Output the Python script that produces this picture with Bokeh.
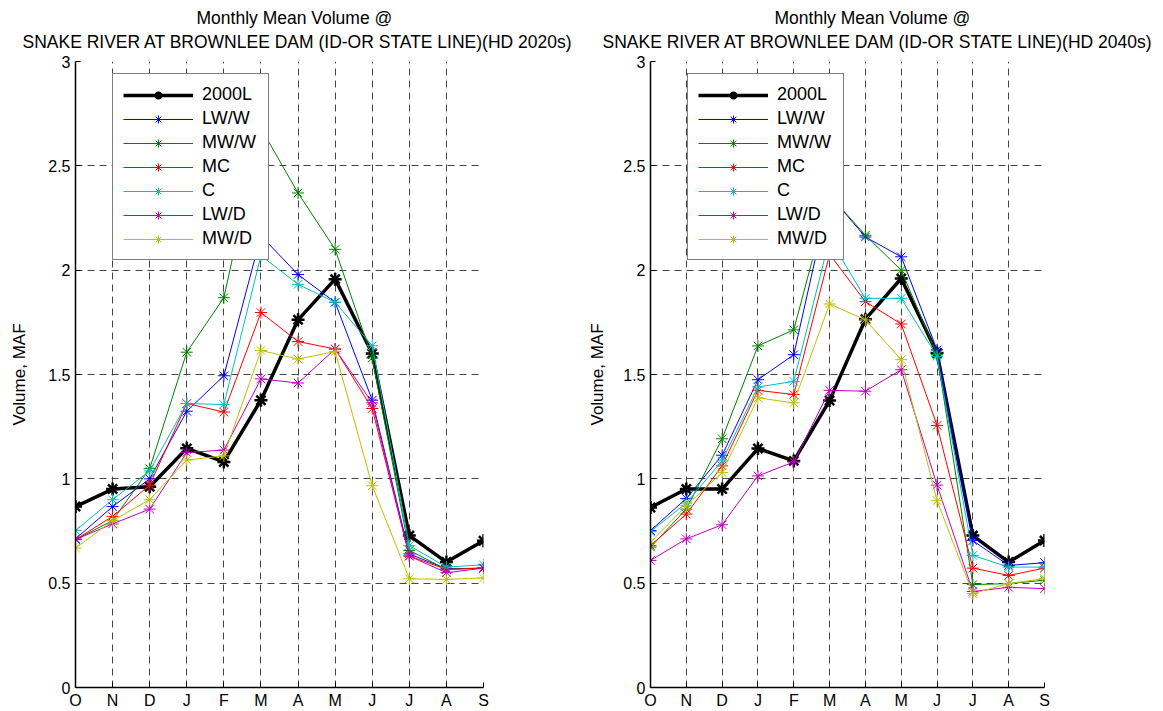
from bokeh.plotting import figure
from bokeh.layouts import row
from bokeh.models import FixedTicker, Title, Range1d
from bokeh.embed import file_html
from bokeh.resources import INLINE

months = ["O", "N", "D", "J", "F", "M", "A", "M", "J", "J", "A", "S"]
y_ticks = [0, 0.5, 1, 1.5, 2, 2.5, 3]
y_tick_labels = ["0", "0.5", "1", "1.5", "2", "2.5", "3"]
series_names = ["2000L", "LW/W", "MW/W", "MC", "C", "LW/D", "MW/D"]
title_line1 = "Monthly Mean Volume @"
title_left = "SNAKE RIVER AT BROWNLEE DAM (ID-OR STATE LINE)(HD 2020s)"
title_right = "SNAKE RIVER AT BROWNLEE DAM (ID-OR STATE LINE)(HD 2040s)"

# HD 2020s
l_2000L = [0.867, 0.951, 0.962, 1.146, 1.081, 1.377, 1.762, 1.957, 1.601, 0.728, 0.601, 0.703]
l_LWW   = [0.712, 0.867, 1.000, 1.324, 1.494, 2.165, 1.979, 1.846, 1.377, 0.640, 0.569, 0.572]
l_MWW   = [0.709, 0.800, 1.049, 1.607, 1.868, 2.680, 2.370, 2.100, 1.579, 0.657, 0.566, 0.572]
l_MC    = [0.709, 0.820, 0.970, 1.361, 1.320, 1.797, 1.658, 1.622, 1.337, 0.630, 0.566, 0.572]
l_C     = [0.752, 0.900, 1.038, 1.361, 1.356, 2.070, 1.932, 1.846, 1.638, 0.680, 0.577, 0.588]
l_LWD   = [0.709, 0.784, 0.855, 1.126, 1.138, 1.479, 1.459, 1.622, 1.364, 0.630, 0.550, 0.572]
l_MWD   = [0.668, 0.800, 0.900, 1.090, 1.110, 1.615, 1.574, 1.610, 0.967, 0.521, 0.518, 0.525]

# HD 2040s
r_2000L = [0.863, 0.951, 0.951, 1.145, 1.086, 1.375, 1.765, 1.960, 1.603, 0.728, 0.601, 0.704]
r_LWW   = [0.752, 0.906, 1.113, 1.475, 1.595, 2.360, 2.159, 2.064, 1.618, 0.704, 0.585, 0.598]
r_MWW   = [0.673, 0.855, 1.192, 1.637, 1.714, 2.360, 2.167, 2.000, 1.595, 0.493, 0.498, 0.514]
r_MC    = [0.680, 0.831, 1.062, 1.424, 1.404, 2.076, 1.849, 1.742, 1.256, 0.572, 0.537, 0.572]
r_C     = [0.747, 0.884, 1.086, 1.440, 1.467, 2.151, 1.865, 1.865, 1.587, 0.633, 0.577, 0.577]
r_LWD   = [0.609, 0.712, 0.780, 1.014, 1.081, 1.424, 1.420, 1.523, 0.970, 0.460, 0.480, 0.474]
r_MWD   = [0.696, 0.871, 1.030, 1.388, 1.364, 1.838, 1.762, 1.571, 0.895, 0.450, 0.498, 0.522]

colors = ["#000000", "#0000FF", "#008000", "#FF0000", "#00BFBF", "#BF00BF", "#BFBF00"]
FONT = "Liberation Sans"


def make_panel(title2, data, width, mb_left, mb_right, ylab_standoff, off1, off2):
    x = list(range(len(months)))
    p = figure(width=width, height=711, output_backend="svg", toolbar_location=None,
               x_range=Range1d(0, 11), y_range=Range1d(0, 3),
               min_border_left=mb_left, min_border_right=mb_right,
               min_border_top=61, min_border_bottom=21)
    p.outline_line_color = None
    p.background_fill_color = "white"
    p.border_fill_color = "white"

    p.add_layout(Title(text=title2, align="left", offset=off2, text_font=FONT,
                       text_font_size="17.5px", text_font_style="normal",
                       text_color="black", standoff=20), "above")
    p.add_layout(Title(text=title_line1, align="left", offset=off1, text_font=FONT,
                       text_font_size="17.5px", text_font_style="normal",
                       text_color="black", standoff=-16), "above")

    p.xaxis.ticker = FixedTicker(ticks=x)
    p.xaxis.major_label_overrides = {i: m for i, m in enumerate(months)}
    p.yaxis.ticker = FixedTicker(ticks=y_ticks)
    p.yaxis.major_label_overrides = {t: s for t, s in zip(y_ticks, y_tick_labels)}
    for ax in (p.xaxis, p.yaxis):
        ax.major_tick_in = 5
        ax.major_tick_out = 0
        ax.minor_tick_line_color = None
        ax.axis_line_color = "black"
        ax.axis_line_width = 1.5
        ax.major_tick_line_color = "black"
        ax.major_label_text_font = FONT
        ax.major_label_text_font_size = "16px"
        ax.major_label_text_color = "black"
    p.xaxis.major_label_standoff = 4
    p.yaxis.major_label_standoff = 5
    p.yaxis.axis_label = "Volume, MAF"
    p.yaxis.axis_label_text_font = FONT
    p.yaxis.axis_label_text_font_size = "17px"
    p.yaxis.axis_label_text_font_style = "normal"
    p.yaxis.axis_label_text_color = "black"
    p.yaxis.axis_label_standoff = ylab_standoff

    for g in (p.xgrid, p.ygrid):
        g.grid_line_color = "#444444"
        g.grid_line_dash = "7 5"
        g.grid_line_width = 1

    for name, ys, c in zip(series_names, data, colors):
        if name == "2000L":
            p.line(x, ys, color=c, line_width=3.5, legend_label=name)
            p.scatter(x, ys, marker="asterisk", size=13, line_color=c, line_width=2.5,
                      legend_label=name)
        else:
            p.line(x, ys, color=c, line_width=1, legend_label=name)
            p.scatter(x, ys, marker="asterisk", size=12, line_color=c, line_width=1,
                      legend_label=name)

    lg = p.legend[0]
    lg.location = (37, 427)
    lg.border_line_color = "black"
    lg.border_line_width = 1
    lg.background_fill_alpha = 1
    lg.padding = 10
    lg.margin = 0
    lg.spacing = 3
    lg.glyph_width = 70
    lg.glyph_height = 20
    lg.label_height = 20
    lg.label_width = 56
    lg.label_standoff = 9
    lg.label_text_font = FONT
    lg.label_text_font_size = "18px"
    lg.label_text_color = "black"
    return p


p1 = make_panel(title_left, [l_2000L, l_LWW, l_MWW, l_MC, l_C, l_LWD, l_MWD],
                580, 75, 97, 16, 121, -53)
p2 = make_panel(title_right, [r_2000L, r_LWW, r_MWW, r_MC, r_C, r_LWD, r_MWD],
                580, 70, 116, 13, 124, -48)

layout = row(p1, p2, spacing=0)
open("out.html", "w").write(file_html(layout, INLINE))
